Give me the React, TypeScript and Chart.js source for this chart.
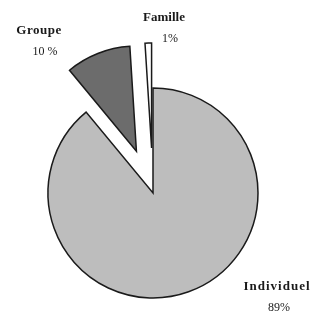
import React, { useEffect, useRef } from "react";
import { Chart, registerables } from "chart.js";

Chart.register(...registerables);

const categories = ["Individuel", "Groupe", "Famille"];
const values = [89, 10, 1];
const percentLabels = ["89%", "10 %", "1%"];
const sliceColors = ["#bdbdbd", "#6c6c6c", "#ffffff"];
const explodeDistances = [0, 45, 45];
const nameLetterSpacing = ["1px", "0.5px", "0px"];
// label anchors relative to the pie centre: [nameDx, nameDy, pctDx, pctDy]
const labelAnchors = [
  [124, 94, 126, 115],
  [-114, -162, -108, -141],
  [11, -175, 17, -154],
];

const explodePlugin = {
  id: "explodeSlices",
  beforeDatasetDraw(chart: any, args: any) {
    const ctx = chart.ctx;
    const arcs = args.meta.data;
    arcs.forEach((arc: any, i: number) => {
      const { startAngle, endAngle } = arc.getProps(["startAngle", "endAngle"], true);
      const half = (startAngle + endAngle) / 2;
      const d = explodeDistances[i] || 0;
      ctx.save();
      ctx.translate(Math.cos(half) * d, Math.sin(half) * d);
      arc.draw(ctx, chart.chartArea);
      ctx.restore();
    });
    return false;
  },
};

const labelPlugin = {
  id: "pieLabels",
  afterDraw(chart: any) {
    const meta = chart.getDatasetMeta(0);
    const arc = meta.data[0];
    if (!arc) return;
    const cx = arc.x;
    const cy = arc.y;
    const ctx = chart.ctx;
    ctx.save();
    ctx.fillStyle = "#1a1a1a";
    ctx.textAlign = "center";
    ctx.textBaseline = "middle";
    categories.forEach((name, i) => {
      const a = labelAnchors[i];
      ctx.font = "bold 13px 'Liberation Serif', 'DejaVu Serif', serif";
      (ctx as any).letterSpacing = nameLetterSpacing[i];
      ctx.fillText(name, cx + a[0], cy + a[1]);
      (ctx as any).letterSpacing = "0px";
      ctx.font = "12px 'Liberation Serif', 'DejaVu Serif', serif";
      ctx.fillText(percentLabels[i], cx + a[2], cy + a[3]);
    });
    ctx.restore();
  },
};

export default function App() {
  const ref = useRef<HTMLCanvasElement | null>(null);
  useEffect(() => {
    if (!ref.current) return;
    const chart = new Chart(ref.current, {
      type: "pie",
      data: {
        labels: categories,
        datasets: [
          {
            data: values,
            backgroundColor: sliceColors,
            borderColor: "#1a1a1a",
            borderWidth: 1.5,
            borderJoinStyle: "miter",
          } as any,
        ],
      },
      options: {
        animation: false,
        responsive: false,
        devicePixelRatio: 1,
        radius: 105,
        layout: { padding: { left: 0, right: 6, top: 73, bottom: 0 } },
        plugins: {
          legend: { display: false },
          tooltip: { enabled: false },
        },
      } as any,
      plugins: [explodePlugin, labelPlugin],
    });
    return () => chart.destroy();
  }, []);
  return (
    <div style={{ position: "absolute", left: 0, top: 0, width: 312, height: 313, background: "#fff" }}>
      <canvas ref={ref} width={312} height={313} style={{ display: "block" }} />
    </div>
  );
}
